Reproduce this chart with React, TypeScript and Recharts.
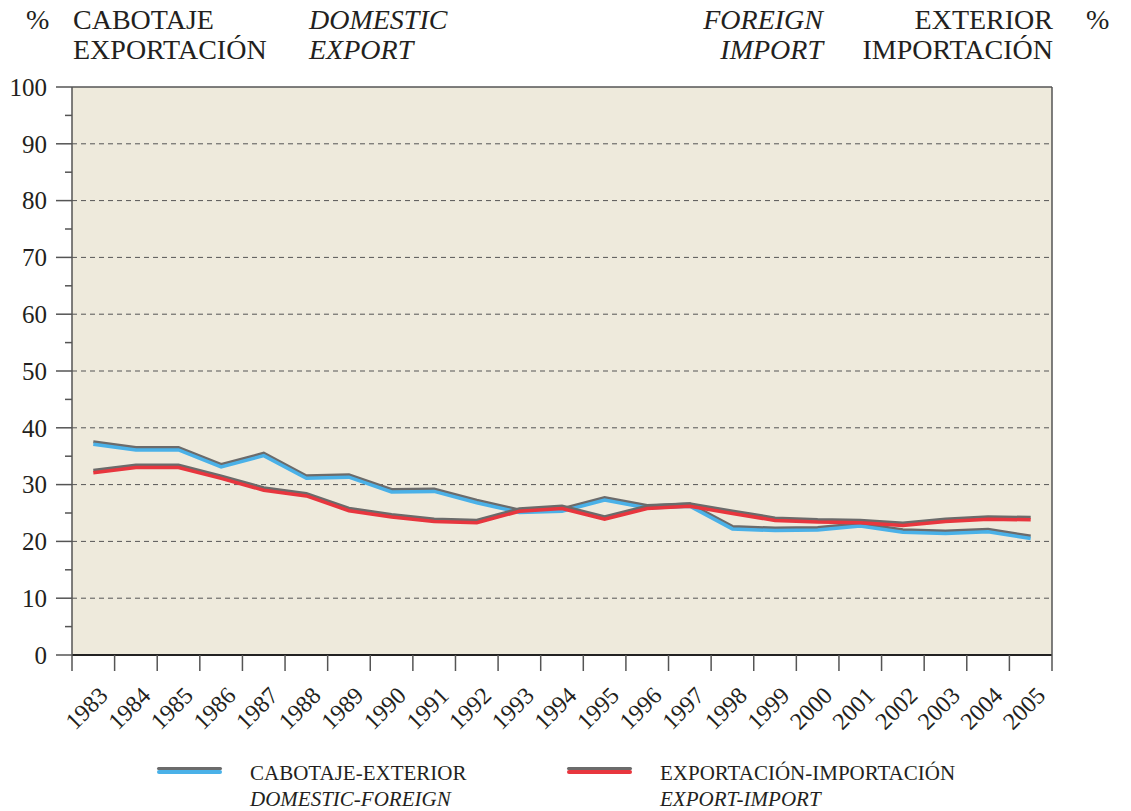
import React from 'react';
import { CartesianGrid, Line, LineChart, ReferenceLine, XAxis, YAxis } from 'recharts';

const years = [
  '1983', '1984', '1985', '1986', '1987', '1988', '1989', '1990', '1991', '1992', '1993', '1994',
  '1995', '1996', '1997', '1998', '1999', '2000', '2001', '2002', '2003', '2004', '2005',
];
// CABOTAJE-EXTERIOR / DOMESTIC-FOREIGN (% cabotaje, left axis)
const cabotajeExterior = [
  37.1, 36.1, 36.1, 33.1, 35.1, 31.1, 31.3, 28.7, 28.8, 26.8, 25.1, 25.3,
  27.3, 25.9, 26.2, 22.2, 21.9, 22.0, 22.7, 21.6, 21.4, 21.7, 20.5,
];
// EXPORTACIÓN-IMPORTACIÓN / EXPORT-IMPORT (% exportación, left axis)
const exportacionImportacion = [
  32.1, 33.0, 33.0, 31.1, 29.0, 28.0, 25.4, 24.3, 23.5, 23.3, 25.3, 25.8,
  23.9, 25.8, 26.2, 24.9, 23.7, 23.4, 23.3, 22.8, 23.5, 23.9, 23.8,
];
const yTicks = [0, 5, 10, 15, 20, 25, 30, 35, 40, 45, 50, 55, 60, 65, 70, 75, 80, 85, 90, 95, 100];
const gridValues = [10, 20, 30, 40, 50, 60, 70, 80, 90];

const data = years.map((year, i) => ({
  year,
  cab: cabotajeExterior[i],
  exp: exportacionImportacion[i],
}));

const W = 1131;
const H = 811;
const PLOT_LEFT = 72;
const PLOT_RIGHT = 1052;
const BAND = (PLOT_RIGHT - PLOT_LEFT) / years.length;
const FONT = '"Liberation Serif", "Times New Roman", Times, "DejaVu Serif", serif';
const INK = '#231f20';
const AXIS = '#555555';

const LeftTick = (props: any) => {
  const { x, y, payload } = props;
  const major = payload.value % 10 === 0;
  return (
    <g>
      <line x1={x - (major ? 16 : 7)} x2={x} y1={y} y2={y} stroke={AXIS} strokeWidth={1.5} />
      {major && (
        <text x={x - 25} y={y} dy="0.35em" textAnchor="end" fontSize={25} fill={INK} style={{ fontFamily: FONT }}>
          {payload.value}
        </text>
      )}
    </g>
  );
};

const RightTick = (props: any) => {
  const { x, y, payload } = props;
  const major = payload.value % 10 === 0;
  return (
    <g>
      <line x1={x} x2={x + (major ? 16 : 7)} y1={y} y2={y} stroke={AXIS} strokeWidth={1.5} />
      {major && (
        <text x={x + 30} y={y} dy="0.35em" textAnchor="start" fontSize={25} fill={INK} style={{ fontFamily: FONT }}>
          {payload.value}
        </text>
      )}
    </g>
  );
};

const YearTick = (props: any) => {
  const { x, y, payload, index } = props;
  const tx = x + 16;
  const ty = y + 42;
  return (
    <g>
      <line x1={x - BAND / 2} x2={x - BAND / 2} y1={y} y2={y + 16} stroke={AXIS} strokeWidth={1.5} />
      {index === years.length - 1 && (
        <line x1={x + BAND / 2} x2={x + BAND / 2} y1={y} y2={y + 16} stroke={AXIS} strokeWidth={1.5} />
      )}
      <text
        x={tx}
        y={ty}
        textAnchor="end"
        transform={`rotate(-45 ${tx} ${ty})`}
        fontSize={24}
        fill={INK}
        style={{ fontFamily: FONT }}
      >
        {payload.value}
      </text>
    </g>
  );
};

const headStyle: React.CSSProperties = {
  position: 'absolute',
  top: 5,
  fontSize: 28,
  lineHeight: '30px',
  whiteSpace: 'nowrap',
};

const Swatch = ({ left, color }: { left: number; color: string }) => (
  <>
    <div style={{ position: 'absolute', left, top: 767, width: 65, height: 3, background: '#6b6b6b', borderRadius: 2 }} />
    <div style={{ position: 'absolute', left, top: 770, width: 65, height: 3.5, background: color, borderRadius: 2 }} />
  </>
);

const App = () => {
  return (
    <div
      style={{
        position: 'absolute',
        left: 0,
        top: 0,
        width: W,
        height: H,
        background: '#ffffff',
        fontFamily: FONT,
        color: INK,
      }}
    >
      <style>{'.shift-up { transform: translateY(-2.5px); }'}</style>

      <div style={{ ...headStyle, left: 26 }}>%</div>
      <div style={{ ...headStyle, left: 73 }}>
        CABOTAJE
        <br />
        EXPORTACIÓN
      </div>
      <div style={{ ...headStyle, left: 309, fontStyle: 'italic' }}>
        DOMESTIC
        <br />
        EXPORT
      </div>
      <div style={{ ...headStyle, right: W - 823, textAlign: 'right', fontStyle: 'italic' }}>
        FOREIGN
        <br />
        IMPORT
      </div>
      <div style={{ ...headStyle, right: W - 1053, textAlign: 'right' }}>
        EXTERIOR
        <br />
        IMPORTACIÓN
      </div>
      <div style={{ ...headStyle, left: 1086 }}>%</div>

      <LineChart width={W} height={H} data={data} margin={{ top: 87, right: 0, bottom: 66, left: 0 }}>
        <CartesianGrid fill="#eeeadc" horizontal={false} vertical={false} stroke="none" yAxisId="left" />
        <XAxis
          dataKey="year"
          height={90}
          interval={0}
          padding={{ left: BAND / 2, right: BAND / 2 }}
          tickSize={0}
          tickMargin={0}
          tick={<YearTick />}
          axisLine={{ stroke: '#222222', strokeWidth: 2 }}
          tickLine={false}
        />
        <YAxis
          yAxisId="left"
          width={PLOT_LEFT}
          domain={[0, 100]}
          ticks={yTicks}
          interval={0}
          tickSize={0}
          tickMargin={0}
          tick={<LeftTick />}
          tickLine={false}
          axisLine={{ stroke: AXIS, strokeWidth: 1.5 }}
        />
        <YAxis
          yAxisId="right"
          orientation="right"
          width={W - PLOT_RIGHT}
          domain={[0, 100]}
          reversed
          ticks={yTicks}
          interval={0}
          tickSize={0}
          tickMargin={0}
          tick={<RightTick />}
          tickLine={false}
          axisLine={{ stroke: AXIS, strokeWidth: 1.5 }}
        />
        {gridValues.map((v) => (
          <ReferenceLine key={v} yAxisId="left" y={v} stroke={AXIS} strokeWidth={1} strokeDasharray="5 4" />
        ))}
        <ReferenceLine yAxisId="left" y={100} stroke={AXIS} strokeWidth={1.5} />

        <Line
          yAxisId="left"
          dataKey="cab"
          className="shift-up"
          stroke="#6b6b6b"
          strokeWidth={3}
          dot={false}
          activeDot={false}
          isAnimationActive={false}
        />
        <Line
          yAxisId="left"
          dataKey="cab"
          stroke="#4ab1e8"
          strokeWidth={3.5}
          dot={false}
          activeDot={false}
          isAnimationActive={false}
        />
        <Line
          yAxisId="left"
          dataKey="exp"
          className="shift-up"
          stroke="#6b6b6b"
          strokeWidth={3}
          dot={false}
          activeDot={false}
          isAnimationActive={false}
        />
        <Line
          yAxisId="left"
          dataKey="exp"
          stroke="#e8363e"
          strokeWidth={3.5}
          dot={false}
          activeDot={false}
          isAnimationActive={false}
        />
      </LineChart>

      <Swatch left={157} color="#4ab1e8" />
      <div style={{ position: 'absolute', left: 250, top: 760, fontSize: 21, lineHeight: '26px', whiteSpace: 'nowrap' }}>
        CABOTAJE-EXTERIOR
        <br />
        <i>DOMESTIC-FOREIGN</i>
      </div>
      <Swatch left={567} color="#e8363e" />
      <div style={{ position: 'absolute', left: 660, top: 760, fontSize: 21, lineHeight: '26px', whiteSpace: 'nowrap' }}>
        EXPORTACIÓN-IMPORTACIÓN
        <br />
        <i>EXPORT-IMPORT</i>
      </div>
    </div>
  );
};

export default App;
